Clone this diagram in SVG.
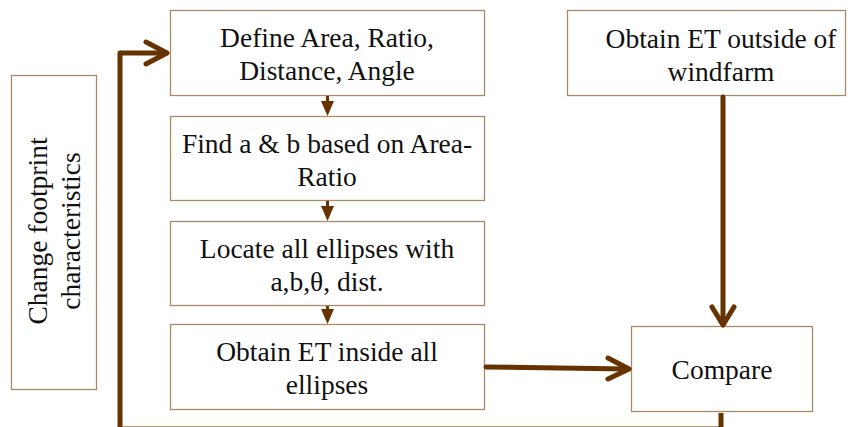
<svg xmlns="http://www.w3.org/2000/svg" width="868" height="427" viewBox="0 0 868 427">
<style>
.box{fill:#fff;stroke:#a88a68;stroke-width:1.3}
.t{font-family:"Liberation Serif",serif;font-size:27.5px;fill:#111;text-anchor:middle}
.big{fill:none;stroke:#663300;stroke-width:5;stroke-linecap:round;stroke-linejoin:round}
.thin{fill:none;stroke:#663300;stroke-width:3}
.head{fill:#663300}
</style>
<rect width="868" height="427" fill="#fff"/>
<g id="define">
<rect class="box" x="170.5" y="10.5" width="314" height="85"/>
<text class="t" x="327" y="47">Define Area, Ratio,</text>
<text class="t" x="327" y="80">Distance, Angle</text>
</g>
<g id="findab">
<rect class="box" x="170.5" y="116.5" width="314" height="84"/>
<text class="t" x="327" y="153">Find a &amp; b based on Area-</text>
<text class="t" x="327" y="186">Ratio</text>
</g>
<g id="locate">
<rect class="box" x="170.5" y="221.5" width="314" height="84"/>
<text class="t" x="327" y="258">Locate all ellipses with</text>
<text class="t" x="327" y="291">a,b,θ, dist.</text>
</g>
<g id="inside">
<rect class="box" x="170.5" y="324.5" width="314" height="85"/>
<text class="t" x="327" y="361">Obtain ET inside all</text>
<text class="t" x="327" y="394">ellipses</text>
</g>
<g id="outside">
<rect class="box" x="567.5" y="10.5" width="278" height="85"/>
<text class="t" x="721" y="48">Obtain ET outside of</text>
<text class="t" x="721" y="81">windfarm</text>
</g>
<g id="compare">
<rect class="box" x="631.5" y="326.5" width="181" height="85"/>
<text class="t" x="722" y="379">Compare</text>
</g>
<g id="change">
<rect class="box" x="11.5" y="75.5" width="85" height="314"/>
<text class="t" transform="translate(47,231) rotate(-90)">Change footprint</text>
<text class="t" transform="translate(80,231) rotate(-90)">characteristics</text>
</g>
<g id="connectors">
<line class="thin" x1="327.5" y1="96" x2="327.5" y2="103"/>
<polygon class="head" points="321,101 334,101 327.5,116"/>
<line class="thin" x1="327.5" y1="201" x2="327.5" y2="208"/>
<polygon class="head" points="321,206 334,206 327.5,221"/>
<line class="thin" x1="327.5" y1="306" x2="327.5" y2="311"/>
<polygon class="head" points="321,309 334,309 327.5,324"/>
<path class="big" d="M486,367 L628,369"/>
<path class="big" d="M608,358 L629,369 L608,379"/>
<path class="big" d="M723,97 L723,324"/>
<path class="big" d="M712,307 L723,325 L734,307"/>
<path class="big" d="M721,413 L721,429 L120,429 L120,53 L166,53" style="stroke-linecap:butt"/>
<path class="big" d="M146,42 L167,53 L146,64"/>
</g>
</svg>
